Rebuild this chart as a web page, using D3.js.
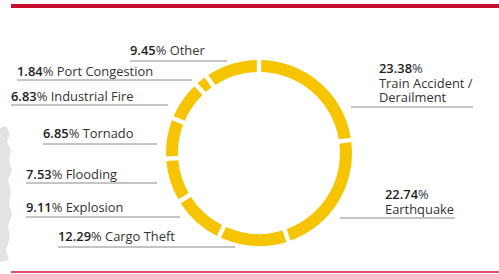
<!DOCTYPE html>
<html>
<head>
<meta charset="utf-8">
<script src="https://cdn.jsdelivr.net/npm/d3@7"></script>
<style>
  body { margin: 0; background: #fff; }
  text { font-family: "Open Sans", "Noto Sans", sans-serif; font-size: 12.9px; fill: #333; }
</style>
</head>
<body>
<script>
// shares of incidents, clockwise from 12 o'clock
const categories = ["Train Accident / Derailment", "Earthquake", "Cargo Theft", "Explosion",
                    "Flooding", "Tornado", "Industrial Fire", "Port Congestion", "Other"];
const values = [23.38, 22.74, 12.29, 9.11, 7.53, 6.85, 6.83, 1.84, 9.45];
const pctLabels = ["23.38", "22.74", "12.29", "9.11", "7.53", "6.85", "6.83", "1.84", "9.45"];

const width = 499, height = 274;
const cx = 259, cy = 153;

// label placement (layout only)
const leftLabels = {
  "Other":           {x: 130, y: 55,  ly: 61,  x2: 227},
  "Port Congestion": {x: 17,  y: 76,  ly: 80,  x2: 192},
  "Industrial Fire": {x: 11,  y: 101, ly: 105, x2: 168},
  "Tornado":         {x: 43,  y: 138, ly: 144, x2: 157},
  "Flooding":        {x: 26,  y: 179, ly: 183, x2: 157},
  "Explosion":       {x: 26,  y: 212, ly: 217, x2: 180},
  "Cargo Theft":     {x: 58,  y: 241, ly: 247, x2: 235}
};
const rightLabels = {
  "Train Accident / Derailment": {x: 379, y: 73,  lines: ["Train Accident /", "Derailment"], ly: 107, x1: 351, x2: 473},
  "Earthquake":                  {x: 385, y: 199, lines: ["Earthquake"], ly: 218, x1: 340, x2: 455}
};

const svg = d3.select("body").append("svg")
    .attr("width", width).attr("height", height);

// faded map scrap on the left edge
svg.append("path")
    .attr("d", "M0,128 L6,126 L10,134 L7,142 L11,150 L9,160 L12,170 L8,180 L11,192 L9,204 L12,214 L8,226 L10,238 L6,250 L9,260 L0,262 Z")
    .attr("fill", "#e3e3e3");

// top and bottom rules
svg.append("rect").attr("x", 11).attr("y", 4).attr("width", width - 11).attr("height", 4).attr("fill", "#c8102e");
svg.append("rect").attr("x", 11).attr("y", 271).attr("width", width - 11).attr("height", 2).attr("fill", "#e0506e");

const data = categories.map((c, i) => ({cat: c, value: values[i], pct: pctLabels[i]}));

const pie = d3.pie().sort(null).value(d => d.value).padAngle(0.036);
const arc = d3.arc().innerRadius(81).outerRadius(93);

svg.append("g")
    .attr("transform", `translate(${cx},${cy})`)
  .selectAll("path")
  .data(pie(data))
  .join("path")
    .attr("d", arc)
    .attr("fill", "#f6c400");

const labels = svg.append("g");

data.forEach(d => {
  const L = leftLabels[d.cat];
  if (L) {
    labels.append("line")
      .attr("x1", L.x).attr("x2", L.x2).attr("y1", L.ly).attr("y2", L.ly)
      .attr("stroke", "#8a8a8a").attr("stroke-width", 1);
    const t = labels.append("text").attr("x", L.x).attr("y", L.y);
    t.append("tspan").attr("font-weight", 600).attr("fill", "#1e1e1e").text(d.pct);
    t.append("tspan").text("% " + d.cat);
  }
  const R = rightLabels[d.cat];
  if (R) {
    labels.append("line")
      .attr("x1", R.x1).attr("x2", R.x2).attr("y1", R.ly).attr("y2", R.ly)
      .attr("stroke", "#8a8a8a").attr("stroke-width", 1);
    // one text block, stacked lines
    const t = labels.append("text").attr("x", R.x).attr("y", R.y);
    t.append("tspan").attr("font-weight", 600).attr("fill", "#1e1e1e").text(d.pct);
    t.append("tspan").text("%");
    R.lines.forEach(ln => {
      t.append("tspan").attr("x", R.x).attr("dy", 14.5).text(ln);
    });
  }
});
</script>
</body>
</html>
